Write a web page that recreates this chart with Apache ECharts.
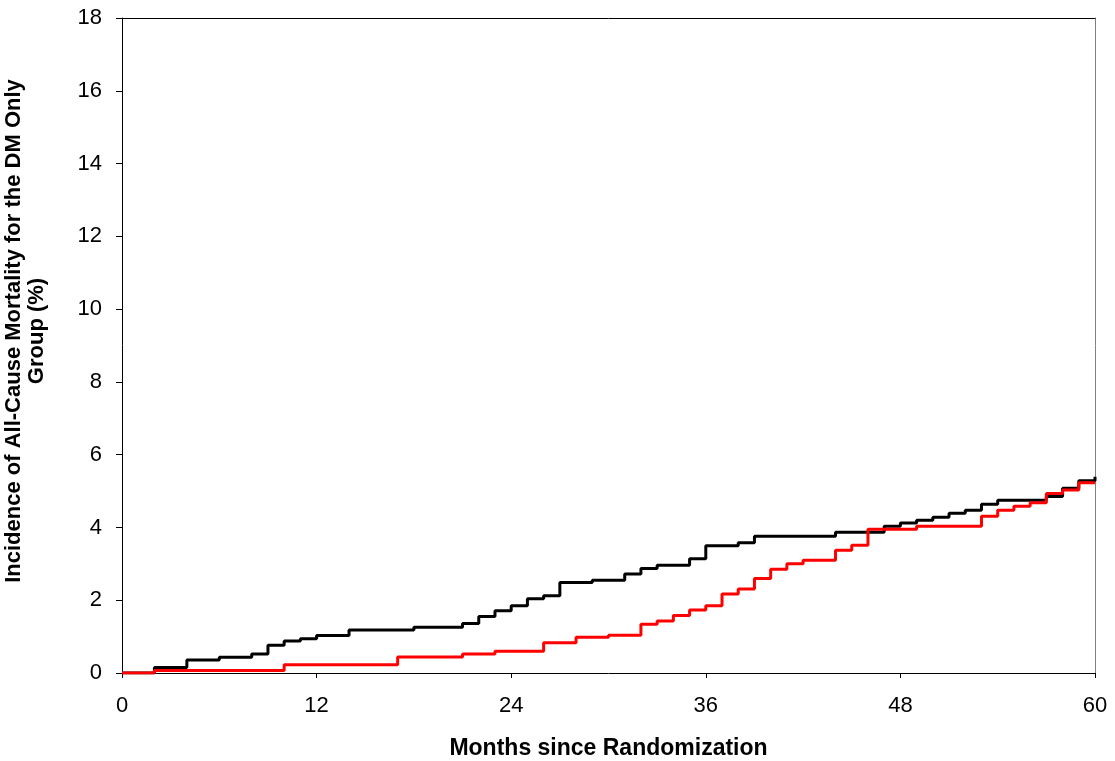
<!DOCTYPE html>
<html>
<head>
<meta charset="utf-8">
<script src="https://cdn.jsdelivr.net/npm/echarts@6/dist/echarts.min.js"></script>
<style>
html,body{margin:0;padding:0;background:#fff;}
#chart{width:1115px;height:761px;}
</style>
</head>
<body>
<div id="chart"></div>
<script>
const xTicks = [0, 12, 24, 36, 48, 60];
const yTicks = [0, 2, 4, 6, 8, 10, 12, 14, 16, 18];

const blackMonths = [0, 2, 4, 6, 8, 9, 10, 11, 12, 14, 18, 21, 22, 23, 24, 25, 26, 27, 29, 31, 32, 33, 35, 36, 38, 39, 44, 47, 48, 49, 50, 51, 52, 53, 54, 57, 58, 59, 60];
const blackValues = [0, 0.15, 0.36, 0.43, 0.52, 0.76, 0.88, 0.94, 1.03, 1.18, 1.26, 1.36, 1.55, 1.71, 1.85, 2.04, 2.12, 2.49, 2.55, 2.72, 2.87, 2.96, 3.14, 3.50, 3.58, 3.76, 3.87, 4.03, 4.12, 4.20, 4.28, 4.39, 4.47, 4.64, 4.75, 4.85, 5.08, 5.28, 5.39];

const redMonths = [0, 2, 10, 17, 21, 23, 26, 28, 30, 32, 33, 34, 35, 36, 37, 38, 39, 40, 41, 42, 44, 45, 46, 49, 53, 54, 55, 56, 57, 58, 59, 60];
const redValues = [0, 0.07, 0.23, 0.44, 0.52, 0.60, 0.83, 0.98, 1.04, 1.34, 1.43, 1.58, 1.73, 1.85, 2.17, 2.31, 2.60, 2.85, 3.00, 3.10, 3.37, 3.51, 3.95, 4.03, 4.31, 4.47, 4.58, 4.68, 4.93, 5.03, 5.23, 5.23];

const FONT = '"Liberation Sans", Arial, sans-serif';
const pairs = (xs, ys) => xs.map((x, i) => [x, ys[i]]);

const chart = echarts.init(document.getElementById('chart'), null, {renderer: 'canvas'});
chart.setOption({
  animation: false,
  backgroundColor: '#ffffff',
  grid: {left: 122, right: 20, top: 18, bottom: 88, containLabel: false, outerBoundsMode: 'none'},
  xAxis: [{
    type: 'value', min: xTicks[0], max: xTicks[xTicks.length - 1],
    interval: xTicks[1] - xTicks[0],
    position: 'bottom',
    name: 'Months since Randomization',
    nameLocation: 'middle', nameGap: 64,
    nameTextStyle: {fontFamily: FONT, fontSize: 23, fontWeight: 'bold', color: '#000'},
    axisLine: {show: true, onZero: false, lineStyle: {color: '#000', width: 1}},
    axisTick: {show: true, inside: false, length: 5, lineStyle: {color: '#000'}},
    axisLabel: {fontFamily: FONT, fontSize: 22, color: '#000', margin: 22},
    splitLine: {show: false}
  }, {
    type: 'value', min: 0, max: 60, position: 'top',
    axisLine: {show: true, onZero: false, lineStyle: {color: '#000', width: 1}},
    axisTick: {show: false}, axisLabel: {show: false}, splitLine: {show: false}
  }],
  yAxis: [{
    type: 'value', min: yTicks[0], max: yTicks[yTicks.length - 1],
    interval: yTicks[1] - yTicks[0],
    position: 'left',
    axisLine: {show: true, onZero: false, lineStyle: {color: '#000', width: 1}},
    axisTick: {show: true, inside: false, length: 6, lineStyle: {color: '#000'}},
    axisLabel: {fontFamily: FONT, fontSize: 22, color: '#000', margin: 20},
    splitLine: {show: false}
  }, {
    type: 'value', min: 0, max: 18, position: 'right',
    axisLine: {show: true, onZero: false, lineStyle: {color: '#808080', width: 1}},
    axisTick: {show: false}, axisLabel: {show: false}, splitLine: {show: false}
  }],
  graphic: [{
    type: 'text',
    x: 25, y: 331,
    rotation: Math.PI / 2,
    style: {
      text: 'Incidence of All-Cause Mortality for the DM Only\nGroup (%)',
      font: 'bold 22px ' + FONT,
      fill: '#000',
      align: 'center',
      verticalAlign: 'middle',
      lineHeight: 23
    }
  }],
  series: [{
    name: 'Black', type: 'line', step: 'end',
    data: pairs(blackMonths, blackValues),
    showSymbol: false, symbol: 'none',
    lineStyle: {color: '#000000', width: 3},
    z: 2
  }, {
    name: 'Red', type: 'line', step: 'end',
    data: pairs(redMonths, redValues),
    showSymbol: false, symbol: 'none',
    lineStyle: {color: '#ff0000', width: 3},
    z: 3
  }]
});
</script>
</body>
</html>
